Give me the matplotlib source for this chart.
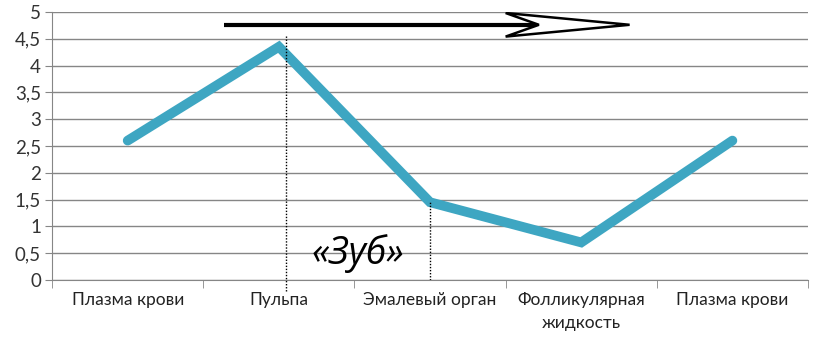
import matplotlib.pyplot as plt
from matplotlib.patches import Polygon
import numpy as np

categories = ['Плазма крови', 'Пульпа', 'Эмалевый орган',
              'Фолликулярная\nжидкость', 'Плазма крови']
values = [2.6, 4.35, 1.45, 0.7, 2.6]
y_ticks = [0, 0.5, 1, 1.5, 2, 2.5, 3, 3.5, 4, 4.5, 5]
y_labels = ['0', '0,5', '1', '1,5', '2', '2,5', '3', '3,5', '4', '4,5', '5']

plt.rcParams['font.family'] = ['Lato', 'DejaVu Sans']

line_color = '#3ea6c2'
grid_color = '#868686'

fig = plt.figure(figsize=(8.27, 3.41), dpi=100)
ax = fig.add_axes([0.063, 0.179, 0.914, 0.786])

x = np.arange(len(categories))
ax.plot(x, values, color=line_color, lw=7, solid_joinstyle='miter',
        solid_capstyle='round', zorder=3)

ax.set_xlim(-0.5, len(categories) - 0.5)
ax.set_ylim(0, 5)
ax.set_yticks(y_ticks)
ax.set_yticklabels(y_labels, fontsize=13.5, color='#333333')
ax.set_xticks(x)
ax.set_xticklabels(categories, fontsize=12.5, color='#222222',
                   linespacing=1.5)
ax.tick_params(axis='x', length=0, pad=9)
ax.set_xticks(np.arange(len(categories) + 1) - 0.5, minor=True)
ax.tick_params(axis='x', which='minor', length=6, color=grid_color)
ax.tick_params(axis='y', length=5, color=grid_color, pad=3)

ax.grid(axis='y', color=grid_color, lw=1)
ax.set_axisbelow(True)
for s in ['top', 'right']:
    ax.spines[s].set_visible(False)
for s in ['left', 'bottom']:
    ax.spines[s].set_color(grid_color)

# dotted markers for the tooth region
ax.plot([1.05, 1.05], [-0.2, 4.55], color='black', lw=1, ls=(0, (1, 1.2)),
        clip_on=False, zorder=4)
ax.plot([2.0, 2.0], [0, 1.45], color='black', lw=1, ls=(0, (1, 1.2)),
        zorder=4)

ax.text(1.52, 0.5, '«Зуб»', fontsize=27, style='italic',
        ha='center', va='center', family=['Open Sans', 'DejaVu Sans'])

# arrow along the top
ay = 4.76
ax.plot([0.64, 2.72], [ay, ay], color='black', lw=3, zorder=5,
        solid_capstyle='butt')
head = Polygon([(2.5, ay + 0.22), (3.32, ay), (2.5, ay - 0.22), (2.72, ay)],
               closed=True, facecolor='white', edgecolor='black', lw=1.8,
               zorder=5)
ax.add_patch(head)

plt.savefig('out.png', dpi=100)
